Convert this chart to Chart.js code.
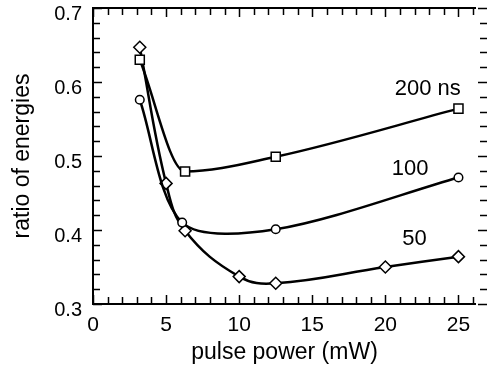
<!DOCTYPE html>
<html>
<head>
<meta charset="utf-8">
<script src="https://cdn.jsdelivr.net/npm/chart.js@4/dist/chart.umd.min.js"></script>
<style>
  body { margin: 0; background: #fff; }
</style>
</head>
<body>
<canvas id="myChart" width="487" height="374"></canvas>
<script>
// pulse power (mW) and ratio of energies
const power200 = [3.2, 6.3, 12.5, 25];
const ratio200 = [0.630, 0.479, 0.499, 0.564];
const power100 = [3.2, 6.1, 12.5, 25];
const ratio100 = [0.576, 0.410, 0.401, 0.471];
const power50 = [3.2, 5.0, 6.3, 10.0, 12.5, 20.0, 25.0];
const ratio50 = [0.647, 0.463, 0.399, 0.337, 0.328, 0.350, 0.364];

const curveLabels = ["200 ns", "100", "50"];
const curveLabelX = [22.9, 21.7, 22.0]; // data coords of the text
const curveLabelY = [0.590, 0.482, 0.388];

const xTicks = [0, 5, 10, 15, 20, 25];
const yTicks = [0.3, 0.4, 0.5, 0.6, 0.7];

const FONT = "Liberation Sans, Arial, Helvetica, sans-serif";

function toPoints(xs, ys) {
  return xs.map((x, i) => ({ x: x, y: ys[i] }));
}

// box + inward tick marks
const frame = {
  id: "frame",
  beforeDatasetsDraw(chart) {
    const { ctx, chartArea: a, scales } = chart;
    const xs = scales.x, ys = scales.y;
    ctx.save();
    ctx.strokeStyle = "#000";
    ctx.lineWidth = 2;
    ctx.beginPath();
    ctx.moveTo(a.right, a.top);
    ctx.lineTo(a.left, a.top);
    ctx.lineTo(a.left, a.bottom);
    ctx.lineTo(a.right, a.bottom);
    ctx.stroke();

    ctx.lineWidth = 1.5;
    ctx.beginPath();
    for (let v = 0; v <= 26; v++) {
      const px = Math.round(xs.getPixelForValue(v)) + 0.5;
      const len = v % 5 === 0 ? 9 : 7;
      ctx.moveTo(px, a.bottom);
      ctx.lineTo(px, a.bottom - len);
      ctx.moveTo(px, a.top);
      ctx.lineTo(px, a.top + len);
    }
    const W = chart.width;
    for (let k = 0; k <= 20; k++) {
      const v = 0.3 + k * 0.02;
      const py = Math.round(ys.getPixelForValue(v)) + 0.5;
      const len = k % 5 === 0 ? 9 : 7;
      ctx.moveTo(a.left, py);
      ctx.lineTo(a.left + len, py);
      ctx.moveTo(W, py);
      ctx.lineTo(W - len, py);
    }
    ctx.stroke();
    ctx.restore();
  },
  afterDatasetsDraw(chart) {
    const { ctx, scales } = chart;
    ctx.save();
    ctx.fillStyle = "#000";
    ctx.font = "22px " + FONT;
    ctx.textAlign = "center";
    ctx.textBaseline = "middle";
    curveLabels.forEach((t, i) => {
      ctx.fillText(t, scales.x.getPixelForValue(curveLabelX[i]), scales.y.getPixelForValue(curveLabelY[i]));
    });
    ctx.restore();
  },
};

const lineStyle = {
  showLine: true,
  borderColor: "#000",
  borderWidth: 2.5,
  tension: 0.4,
  pointBackgroundColor: "#fff",
  pointBorderColor: "#000",
  pointBorderWidth: 1.5,
};

const ctx = document.getElementById("myChart");
const myChart = new Chart(ctx, {
  type: "scatter",
  data: {
    datasets: [
      { ...lineStyle, label: curveLabels[0], data: toPoints(power200, ratio200), pointStyle: "rect", pointRadius: 6.4, cubicInterpolationMode: "monotone" },
      { ...lineStyle, label: curveLabels[1], data: toPoints(power100, ratio100), pointStyle: "circle", pointRadius: 4.3, tension: 0.3 },
      { ...lineStyle, label: curveLabels[2], data: toPoints(power50, ratio50), pointStyle: "rectRot", pointRadius: 6 },
    ],
  },
  options: {
    responsive: false,
    animation: false,
    layout: { padding: { top: 8, right: 11, left: 0, bottom: 0 } },
    plugins: {
      legend: { display: false },
      tooltip: { enabled: false },
    },
    scales: {
      x: {
        type: "linear",
        min: 0,
        max: 26.2,
        afterBuildTicks: (s) => { s.ticks = xTicks.map((v) => ({ value: v })); },
        afterFit: (s) => { s.height = 70; s.paddingLeft = 0; s.paddingRight = 0; },
        grid: { display: false, drawTicks: false },
        border: { display: false },
        ticks: { color: "#000", font: { family: FONT, size: 21 }, padding: 9, maxRotation: 0 },
        title: {
          display: true,
          text: "pulse power (mW)",
          color: "#000",
          font: { family: FONT, size: 23 },
          padding: { top: 0, bottom: 8 },
        },
      },
      y: {
        min: 0.3,
        max: 0.7,
        afterBuildTicks: (s) => { s.ticks = yTicks.map((v) => ({ value: v })); },
        afterFit: (s) => { s.width = 93; s.paddingTop = 0; s.paddingBottom = 0; },
        grid: { display: false, drawTicks: false },
        border: { display: false },
        ticks: {
          color: "#000",
          font: { family: FONT, size: 20 },
          padding: 11,
          labelOffset: 6,
          callback: (v) => v.toFixed(1),
        },
        title: {
          display: true,
          text: "ratio of energies",
          color: "#000",
          font: { family: FONT, size: 23 },
          padding: { top: 9, bottom: 0 },
        },
      },
    },
  },
  plugins: [frame],
});
</script>
</body>
</html>
